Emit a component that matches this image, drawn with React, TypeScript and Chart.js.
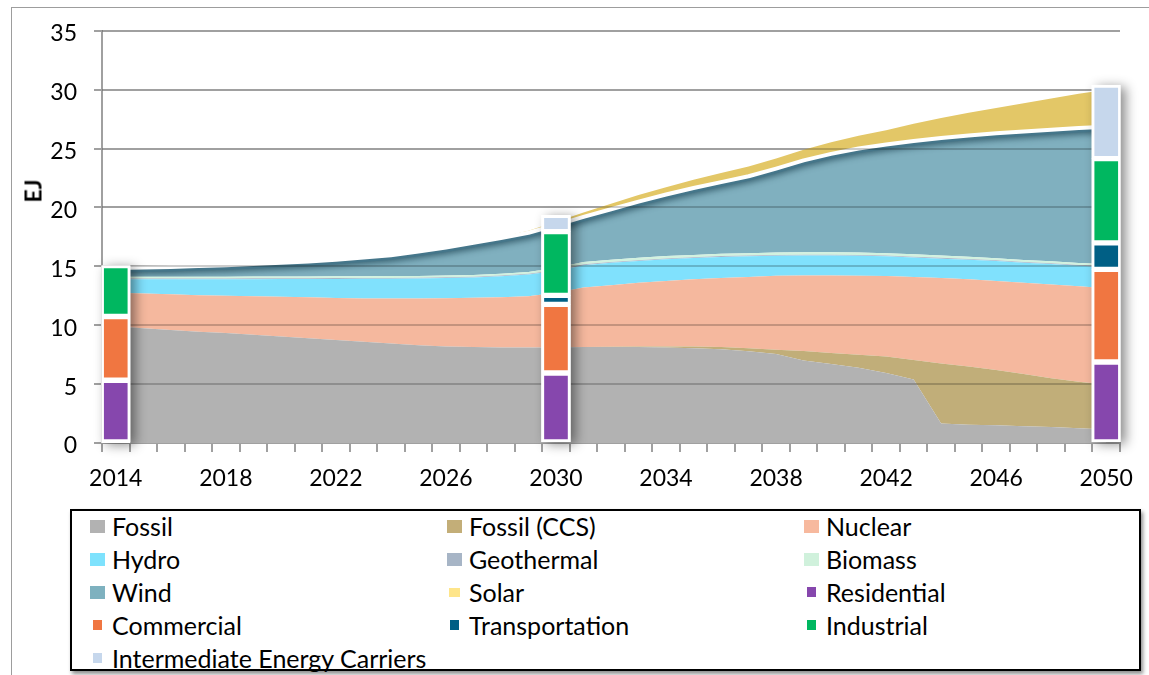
import React, { useEffect, useRef } from 'react';
import { Chart, registerables } from 'chart.js';

Chart.register(...registerables);

// ---------- data ----------
const years = [
  '2014', '2015', '2016', '2017', '2018', '2019', '2020', '2021', '2022', '2023',
  '2024', '2025', '2026', '2027', '2028', '2029', '2030', '2031', '2032', '2033',
  '2034', '2035', '2036', '2037', '2038', '2039', '2040', '2041', '2042', '2043',
  '2044', '2045', '2046', '2047', '2048', '2049', '2050',
];
const xTickLabels = ['2014', '2018', '2022', '2026', '2030', '2034', '2038', '2042', '2046', '2050'];
const yMin = 0;
const yMax = 35;
const yStep = 5;

const fossil = [
  9.9, 9.75, 9.6, 9.45, 9.35, 9.2, 9.05, 8.9, 8.75, 8.6,
  8.45, 8.3, 8.2, 8.15, 8.1, 8.1, 8.1, 8.15, 8.15, 8.15,
  8.1, 8.05, 7.95, 7.8, 7.55, 7.0, 6.7, 6.4, 5.95, 5.4,
  1.65, 1.55, 1.5, 1.42, 1.35, 1.25, 1.15,
];
const fossilCcs = [
  0, 0, 0, 0, 0, 0, 0, 0, 0, 0,
  0, 0, 0, 0, 0, 0, 0, 0, 0.02, 0.05,
  0.1, 0.15, 0.2, 0.25, 0.37, 0.82, 0.95, 1.1, 1.4, 1.65,
  5.1, 4.95, 4.7, 4.43, 4.15, 3.95, 3.8,
];
const nuclear = [
  2.85, 2.95, 3.02, 3.1, 3.15, 3.27, 3.37, 3.47, 3.57, 3.68,
  3.82, 3.98, 4.1, 4.18, 4.27, 4.35, 4.65, 5.05, 5.23, 5.4,
  5.55, 5.7, 5.85, 6.05, 6.28, 6.4, 6.57, 6.7, 6.82, 7.05,
  7.25, 7.4, 7.55, 7.75, 7.95, 8.1, 8.2,
];
const hydro = [
  1.15, 1.2, 1.28, 1.35, 1.4, 1.44, 1.5, 1.55, 1.61, 1.66,
  1.68, 1.69, 1.7, 1.72, 1.78, 1.85, 1.85, 1.9, 1.9, 1.85,
  1.85, 1.8, 1.8, 1.75, 1.7, 1.7, 1.7, 1.7, 1.68, 1.65,
  1.65, 1.65, 1.7, 1.7, 1.75, 1.75, 1.8,
];
const geothermal = [
  0.07, 0.07, 0.07, 0.07, 0.07, 0.07, 0.07, 0.07, 0.07, 0.07,
  0.07, 0.07, 0.07, 0.07, 0.07, 0.07, 0.07, 0.07, 0.07, 0.07,
  0.07, 0.07, 0.07, 0.07, 0.07, 0.07, 0.07, 0.07, 0.07, 0.07,
  0.07, 0.07, 0.07, 0.07, 0.07, 0.07, 0.07,
];
const biomass = [
  0.15, 0.15, 0.15, 0.15, 0.15, 0.15, 0.15, 0.15, 0.15, 0.15,
  0.15, 0.15, 0.15, 0.15, 0.15, 0.15, 0.2, 0.2, 0.2, 0.2,
  0.2, 0.2, 0.2, 0.2, 0.2, 0.2, 0.2, 0.2, 0.2, 0.2,
  0.2, 0.2, 0.17, 0.17, 0.17, 0.17, 0.17,
];
const wind = [
  0.73, 0.78, 0.83, 0.9, 0.98, 1.07, 1.16, 1.28, 1.4, 1.59,
  1.78, 2.06, 2.38, 2.73, 3.03, 3.33, 3.63, 3.83, 4.28, 4.78,
  5.23, 5.68, 6.08, 6.53, 7.13, 7.81, 8.36, 8.83, 9.23, 9.63,
  9.98, 10.28, 10.61, 10.91, 11.16, 11.46, 11.66,
];
const solar = [
  0, 0, 0, 0, 0, 0, 0, 0, 0, 0,
  0, 0, 0, 0.03, 0.1, 0.18, 0.28, 0.38, 0.47, 0.55,
  0.62, 0.7, 0.77, 0.82, 0.86, 0.9, 0.98, 1.08, 1.2, 1.45,
  1.7, 1.95, 2.15, 2.4, 2.65, 2.9, 3.15,
];

const barYears = ['2014', '2030', '2050'];
const residential = [5.33, 5.94, 6.88];
const commercial = [5.41, 5.83, 7.86];
const transportation = [null, 0.76, 2.25];
const industrial = [4.33, 5.42, 7.15];
const intermediate = [null, 1.38, 6.26];

const areaSeries = [
  { label: 'Fossil', data: fossil, color: '#b2b2b2', swatch: '#b2b2b2' },
  { label: 'Fossil (CCS)', data: fossilCcs, color: '#c1ae79', swatch: '#c3ae78' },
  { label: 'Nuclear', data: nuclear, color: '#f5b89e', swatch: '#f7b99e' },
  { label: 'Hydro', data: hydro, color: '#80e1fd', swatch: '#7ee2fd' },
  { label: 'Geothermal', data: geothermal, color: '#a9b6c8', swatch: '#a7b5c6' },
  { label: 'Biomass', data: biomass, color: '#d2f2df', swatch: '#d0f1dc' },
  { label: 'Wind', data: wind, color: '#80b0bf', swatch: '#7eb1bf' },
  { label: 'Solar', data: solar, color: '#e3c767', swatch: '#fee58a' },
];
const barSeries = [
  { label: 'Residential', data: residential, color: '#8647ad' },
  { label: 'Commercial', data: commercial, color: '#f07641' },
  { label: 'Transportation', data: transportation, color: '#005f85' },
  { label: 'Industrial', data: industrial, color: '#00b760' },
  { label: 'Intermediate Energy Carriers', data: intermediate, color: '#c6d7ec' },
];

const FONT = 'Lato';

// ---------- decoration plugin ----------
function drawDecor(chart: any) {
  const ctx = chart.ctx as CanvasRenderingContext2D;
  const ca = chart.chartArea;
  const yScale = chart.scales.y;
  ctx.save();

  // white separator along the top of wind
  const windIdx = chart.data.datasets.findIndex((d: any) => d.label === 'Wind');
  const wpts = chart.getDatasetMeta(windIdx).data;
  ctx.strokeStyle = '#ffffff';
  ctx.lineWidth = 4;
  ctx.lineJoin = 'round';
  ctx.beginPath();
  wpts.forEach((p: any, i: number) => (i === 0 ? ctx.moveTo(p.x, p.y) : ctx.lineTo(p.x, p.y)));
  ctx.stroke();

  // gridlines over the filled areas
  const lines = yScale.ticks.filter((t: any) => t.value !== 0).map((t: any) => Math.round(yScale.getPixelForValue(t.value)));
  ctx.lineWidth = 2;
  ctx.globalCompositeOperation = 'source-atop';
  ctx.strokeStyle = 'rgba(0,0,0,0.2)';
  lines.forEach((y: number) => {
    ctx.beginPath();
    ctx.moveTo(ca.left, y);
    ctx.lineTo(ca.right, y);
    ctx.stroke();
  });
  // gridlines on the empty background
  ctx.globalCompositeOperation = 'destination-over';
  ctx.strokeStyle = '#a0a0a0';
  lines.forEach((y: number) => {
    ctx.beginPath();
    ctx.moveTo(ca.left, y);
    ctx.lineTo(ca.right, y);
    ctx.stroke();
  });
  ctx.globalCompositeOperation = 'source-over';

  // drop shadows behind the stacked bars
  const boxes: Record<string, any> = {};
  chart.getSortedVisibleDatasetMetas()
    .filter((m: any) => m.type === 'bar')
    .forEach((m: any) => {
      m.data.forEach((el: any) => {
        const p = el.getProps(['x', 'y', 'base', 'width'], true);
        if (!Number.isFinite(p.y) || !Number.isFinite(p.base)) return;
        const key = String(Math.round(p.x));
        const top = Math.min(p.y, p.base);
        const bot = Math.max(p.y, p.base);
        const b = boxes[key];
        if (!b) boxes[key] = { l: p.x - p.width / 2, r: p.x + p.width / 2, t: top, b: bot };
        else { b.t = Math.min(b.t, top); b.b = Math.max(b.b, bot); }
      });
    });
  ctx.shadowColor = 'rgba(0,0,0,0.45)';
  ctx.shadowBlur = 12;
  ctx.shadowOffsetX = 5;
  ctx.shadowOffsetY = 2;
  ctx.fillStyle = '#ffffff';
  Object.values(boxes).forEach((b: any) => {
    ctx.fillRect(b.l, b.t, b.r - b.l, b.b - b.t);
  });
  ctx.restore();
}

const decorPlugin = {
  id: 'decor',
  beforeDraw(chart: any) {
    chart.$decorDone = false;
  },
  beforeDatasetDraw(chart: any, args: any) {
    const ctx = chart.ctx as CanvasRenderingContext2D;
    const ds = chart.data.datasets[args.index];
    if (ds.label === 'Wind') {
      const pts = args.meta.data;
      const bottom = chart.chartArea.bottom;
      ctx.save();
      ctx.beginPath();
      pts.forEach((p: any, i: number) => (i === 0 ? ctx.moveTo(p.x, p.y) : ctx.lineTo(p.x, p.y)));
      ctx.lineTo(pts[pts.length - 1].x, bottom);
      ctx.lineTo(pts[0].x, bottom);
      ctx.closePath();
      ctx.clip();
      ctx.shadowColor = 'rgba(50,90,105,0.9)';
      ctx.shadowBlur = 6;
      ctx.shadowOffsetY = 2;
      chart.$windClip = true;
    }
    if (args.meta.type === 'bar' && !chart.$decorDone) {
      chart.$decorDone = true;
      drawDecor(chart);
    }
  },
  afterDatasetDraw(chart: any, args: any) {
    const ds = chart.data.datasets[args.index];
    if (ds.label === 'Wind' && chart.$windClip) {
      chart.ctx.restore();
      chart.$windClip = false;
    }
  },
};

// ---------- legend layout ----------
const legendItems = [
  ...areaSeries.map((s) => ({ label: s.label, color: s.swatch, kind: s.label === 'Solar' ? 'small' : 'area' })),
  ...barSeries.map((s) => ({ label: s.label, color: s.color, kind: 'bar' })),
];
const swatchSize: Record<string, [number, number]> = {
  area: [15, 13],
  small: [11, 9],
  bar: [9, 10],
};

export default function App() {
  const canvasRef = useRef<HTMLCanvasElement | null>(null);

  useEffect(() => {
    if (!canvasRef.current) return;
    const datasets: any[] = [
      ...areaSeries.map((s, i) => ({
        type: 'line',
        label: s.label,
        data: s.data,
        stack: 'areas',
        backgroundColor: s.color,
        borderColor: s.label === 'Wind' ? '#45768a' : 'rgba(0,0,0,0)',
        borderWidth: s.label === 'Wind' ? 9 : 0,
        fill: i === 0 ? 'origin' : '-1',
        pointRadius: 0,
        pointHoverRadius: 0,
        tension: 0,
        order: 1,
      })),
      ...barSeries.map((s) => ({
        type: 'bar',
        label: s.label,
        data: barYears.map((y, k) => ({ x: y, y: s.data[k] })),
        stack: 'bars',
        backgroundColor: s.color,
        borderColor: '#ffffff',
        borderWidth: 3,
        borderSkipped: false,
        barThickness: 29,
        order: 0,
      })),
    ];

    const chart = new Chart(canvasRef.current, {
      type: 'bar',
      data: { labels: years, datasets },
      options: {
        responsive: false,
        maintainAspectRatio: false,
        animation: false,
        events: [],
        layout: { padding: { left: 0, right: 29, top: 30, bottom: 0 } },
        plugins: {
          legend: { display: false },
          tooltip: { enabled: false },
        },
        scales: {
          x: {
            type: 'category',
            stacked: true,
            offset: true,
            grid: {
              offset: true,
              drawOnChartArea: false,
              drawTicks: true,
              tickLength: 9,
              color: '#a0a0a0',
              lineWidth: 2,
            },
            border: { display: true, color: '#a0a0a0', width: 2 },
            ticks: {
              autoSkip: false,
              maxRotation: 0,
              minRotation: 0,
              color: '#000000',
              padding: 13,
              font: { family: FONT, size: 23 },
              callback: (_v: any, index: number) => (xTickLabels.includes(years[index]) ? years[index] : ''),
            },
            afterFit: (scale: any) => {
              scale.height = 62;
            },
          },
          y: {
            stacked: true,
            min: yMin,
            max: yMax,
            ticks: {
              stepSize: yStep,
              color: '#000000',
              padding: 17,
              labelOffset: 3,
              font: { family: FONT, size: 23 },
            },
            grid: {
              drawOnChartArea: false,
              drawTicks: true,
              tickLength: 8,
              color: '#a0a0a0',
              lineWidth: 2,
            },
            border: { display: true, color: '#a0a0a0', width: 2 },
            afterFit: (scale: any) => {
              scale.width = 102;
            },
          },
        },
      } as any,
      plugins: [decorPlugin as any],
    });
    return () => chart.destroy();
  }, []);

  const colLeft = [90, 447, 804];
  const rowCenter0 = 526;
  const rowStep = 33;
  const boxLeft = 70;
  const boxTop = 509;

  return (
    <div
      style={{
        position: 'fixed',
        left: 0,
        top: 0,
        width: 1149,
        height: 675,
        overflow: 'hidden',
        background: '#ffffff',
        fontFamily: FONT,
      }}
    >
      <div
        style={{
          position: 'absolute',
          left: 11,
          top: 7,
          width: 1300,
          height: 800,
          borderLeft: '1.5px solid #9d9d9d',
          borderTop: '1.5px solid #9d9d9d',
        }}
      />
      <canvas ref={canvasRef} width={1149} height={505} style={{ position: 'absolute', left: 0, top: 0 }} />
      <div
        style={{
          position: 'absolute',
          left: 33,
          top: 191,
          transform: 'translate(-50%, -50%) rotate(-90deg)',
          fontWeight: 700,
          fontSize: 23,
          color: '#000',
          whiteSpace: 'nowrap',
          lineHeight: 1,
        }}
      >
        EJ
      </div>
      <div
        style={{
          position: 'absolute',
          left: boxLeft,
          top: boxTop,
          width: 1071,
          height: 162,
          boxSizing: 'border-box',
          border: '2px solid #000',
          boxShadow: '2px 3px 4px rgba(0,0,0,0.45)',
          background: '#fff',
        }}
      >
        {legendItems.map((it, i) => {
          const col = i % 3;
          const row = Math.floor(i / 3);
          const [sw, sh] = swatchSize[it.kind];
          return (
            <div
              key={it.label}
              style={{
                position: 'absolute',
                left: colLeft[col] - boxLeft - 2,
                top: rowCenter0 + row * rowStep - boxTop - 2 - 16,
                height: 32,
                display: 'flex',
                alignItems: 'center',
                whiteSpace: 'nowrap',
              }}
            >
              <div style={{ width: 15, display: 'flex', justifyContent: 'center' }}>
                <div style={{ width: sw, height: sh, background: it.color }} />
              </div>
              <div style={{ marginLeft: 7, fontSize: 25, color: '#000', lineHeight: 1 }}>{it.label}</div>
            </div>
          );
        })}
      </div>
    </div>
  );
}
